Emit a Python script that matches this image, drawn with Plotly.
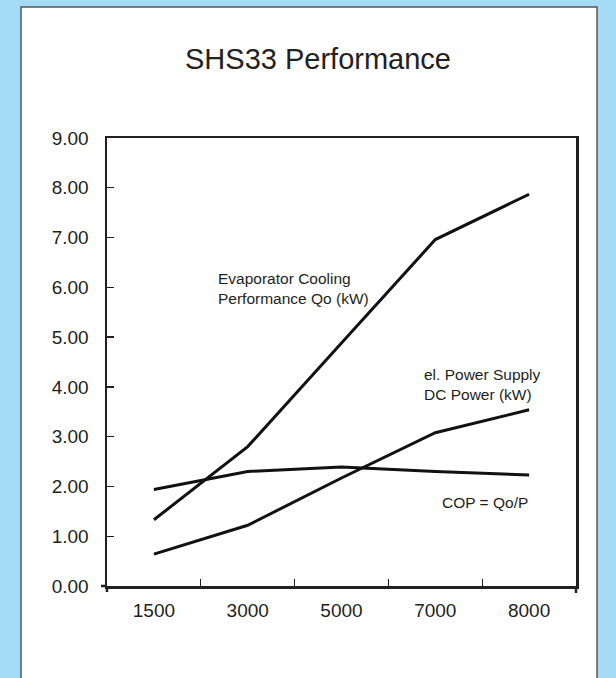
import plotly.graph_objects as go

# ---- data ----
categories = ["1500", "3000", "5000", "7000", "8000"]
evap_cooling_qo = [1.33, 2.80, 4.88, 6.96, 7.87]
dc_power = [0.64, 1.22, 2.17, 3.08, 3.54]
cop = [1.94, 2.30, 2.39, 2.30, 2.23]
y_ticks = [0, 1, 2, 3, 4, 5, 6, 7, 8, 9]

title_text = "SHS33 Performance"
label_evap = "Evaporator Cooling<br>Performance Qo (kW)"
label_power = "el. Power Supply<br>DC Power (kW)"
label_cop = "COP = Qo/P"

# ---- layout constants (pixels) ----
W, H = 616, 678
PL, PR, PT, PB = 107, 576, 138, 586  # plot area
FONT = "Liberation Sans, Arial, Helvetica, sans-serif"
INK = "#231f20"


def px(x):
    return (x - PL) / (PR - PL)


def py(y):
    return (PB - y) / (PB - PT)


fig = go.Figure()
for series in (evap_cooling_qo, dc_power, cop):
    fig.add_trace(go.Scatter(
        x=categories, y=series, mode="lines",
        line=dict(color="#111111", width=3),
        showlegend=False, hoverinfo="skip"))

shapes = [
    # white panel
    dict(type="rect", xref="paper", yref="paper", layer="below",
         x0=px(21), x1=px(597), y0=py(H + 10), y1=py(7),
         fillcolor="white", line=dict(color="#555555", width=1.5)),
    # axis stubs
    dict(type="line", xref="paper", yref="paper", x0=px(PL), x1=px(PL),
         y0=py(PB), y1=py(PB + 6), line=dict(color=INK, width=2.5)),
    dict(type="line", xref="paper", yref="paper", x0=px(PR), x1=px(PR),
         y0=py(PB), y1=py(PB + 7), line=dict(color=INK, width=2.5)),
    dict(type="line", xref="paper", yref="paper", x0=px(PL - 6), x1=px(PL),
         y0=0, y1=0, line=dict(color=INK, width=2.5)),
]

annotations = [
    dict(text=label_evap, xref="paper", yref="paper", x=px(216), y=py(288),
         xanchor="left", yanchor="middle", align="left", showarrow=False,
         font=dict(family=FONT, size=15.5, color=INK)),
    dict(text=label_power, xref="paper", yref="paper", x=px(422), y=py(384),
         xanchor="left", yanchor="middle", align="left", showarrow=False,
         font=dict(family=FONT, size=15.5, color=INK)),
    dict(text=label_cop, xref="paper", yref="paper", x=px(484.5), y=py(502),
         xanchor="center", yanchor="middle", align="center", showarrow=False,
         font=dict(family=FONT, size=15.5, color=INK)),
]

fig.update_layout(
    width=W, height=H,
    margin=dict(l=PL, r=W - PR, t=PT, b=H - PB, autoexpand=False),
    paper_bgcolor="#a6dbf5",
    plot_bgcolor="white",
    title=dict(text=title_text, x=318 / W, xref="container", xanchor="center",
               y=1 - 59 / H, yref="container", yanchor="middle",
               font=dict(family=FONT, size=29, color="#222222")),
    shapes=shapes,
    annotations=annotations,
    font=dict(family=FONT, color=INK),
)

fig.update_xaxes(
    type="category", range=[-0.5, 4.5], showgrid=False, zeroline=False,
    showline=True, linecolor=INK, linewidth=2.5, mirror=True,
    ticks="inside", tickson="boundaries", ticklen=7, tickwidth=1.3, tickcolor=INK,
    tickfont=dict(family=FONT, size=19, color=INK), ticklabelstandoff=6,
)
fig.update_yaxes(
    range=[0, 9], tickvals=y_ticks, tickformat=".2f", showgrid=False,
    zeroline=False, showline=True, linecolor=INK, linewidth=2.5, mirror=True,
    ticks="inside", ticklen=7, tickwidth=1.3, tickcolor=INK,
    tickfont=dict(family=FONT, size=19, color=INK), ticklabelstandoff=12,
)

fig.write_html(
    "out.html",
    config={"displayModeBar": False, "staticPlot": True},
    post_script="document.body.style.margin='0';document.body.style.overflow='hidden';",
)
